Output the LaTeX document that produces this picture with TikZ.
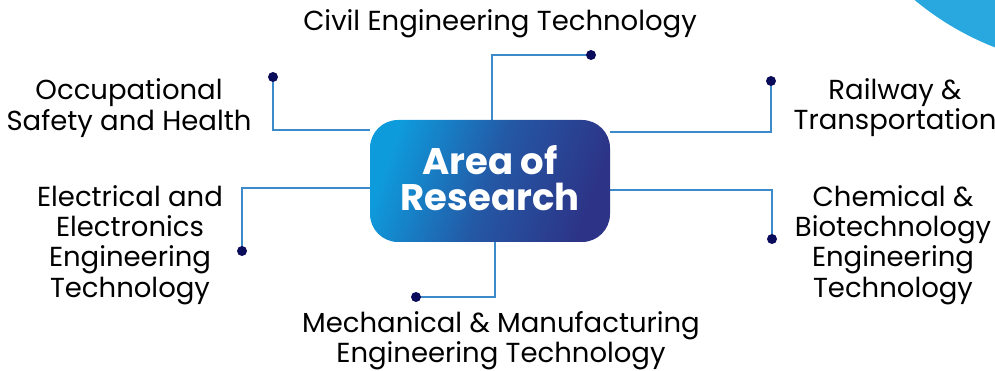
\documentclass[tikz,border=0pt]{standalone}
\usepackage{fontspec}
\setmainfont{Poppins}
\usetikzlibrary{backgrounds}
\definecolor{linec}{HTML}{3C8AC9}
\definecolor{dotc}{HTML}{0B0B5C}
\definecolor{boxa}{HTML}{0E9BDC}
\definecolor{boxb}{HTML}{2458A5}
\definecolor{boxc}{HTML}{2D3386}
\definecolor{cornerc}{HTML}{29A8E0}
\begin{document}
\begin{tikzpicture}[x=1pt,y=-1pt,
  conn/.style={draw=linec,line width=1.6pt},
  dotmark/.style={circle,fill=dotc,inner sep=0pt,minimum size=10pt},
  lbl/.style={align=center,inner sep=0pt,font=\fontsize{27.5}{30.2}\selectfont,text=black},
  mainbox/.style={rounded corners=28pt,minimum width=240pt,minimum height=122pt,
    left color=boxa,right color=boxc,middle color=boxb,shading angle=70},
  maintext/.style={text=white,align=center,inner sep=0pt,font=\bfseries\fontsize{37}{36}\selectfont}]
\useasboundingbox (0,0) rectangle (995,371);
% centre box
\node[mainbox] (c) at (490,181) {};
\node[maintext] (ct) at (490,178.5) {Area of\\Research};
% dots
\node[dotmark] (dT) at (591,55) {};
\node[dotmark] (dUL) at (273,77) {};
\node[dotmark] (dUR) at (771,81) {};
\node[dotmark] (dLL) at (242,251) {};
\node[dotmark] (dLR) at (772,239) {};
\node[dotmark] (dB) at (416,297) {};
% corner coordinates
\coordinate (kT) at (492,55);
\coordinate (kUL) at (273,130);
\coordinate (kUR) at (771,132);
\coordinate (kLL) at (242,188);
\coordinate (kLR) at (772,190);
\coordinate (kB) at (495,297);
\begin{pgfonlayer}{background}
\begin{scope}
\clip (0,0) rectangle (995,371);
\fill[cornerc] (1100,-223) circle (290);
\end{scope}
\draw[conn] (c.north -| kT) -- (kT) -- (dT.center);
\draw[conn] (c.west |- kUL) -- (kUL) -- (dUL.center);
\draw[conn] (c.east |- kUR) -- (kUR) -- (dUR.center);
\draw[conn] (c.west |- kLL) -- (kLL) -- (dLL.center);
\draw[conn] (c.east |- kLR) -- (kLR) -- (dLR.center);
\draw[conn] (c.south -| kB) -- (kB) -- (dB.center);
\end{pgfonlayer}
% labels
\begin{scope}
\clip (0,0) rectangle (995,371);
\node[lbl] (tT) at (500,24) {Civil Engineering Technology};
\node[lbl] (tUL) at (129,108) {Occupational\\Safety and Health};
\node[lbl] (tUR) at (895,108) {Railway \&\\Transportation};
\node[lbl] (tLL) at (130,245) {Electrical and\\Electronics\\Engineering\\Technology};
\node[lbl] (tLR) at (893,245) {Chemical \&\\Biotechnology\\Engineering\\Technology};
\node[lbl] (tB) at (501,341) {Mechanical \& Manufacturing\\Engineering Technology};
\end{scope}
\end{tikzpicture}
\end{document}
